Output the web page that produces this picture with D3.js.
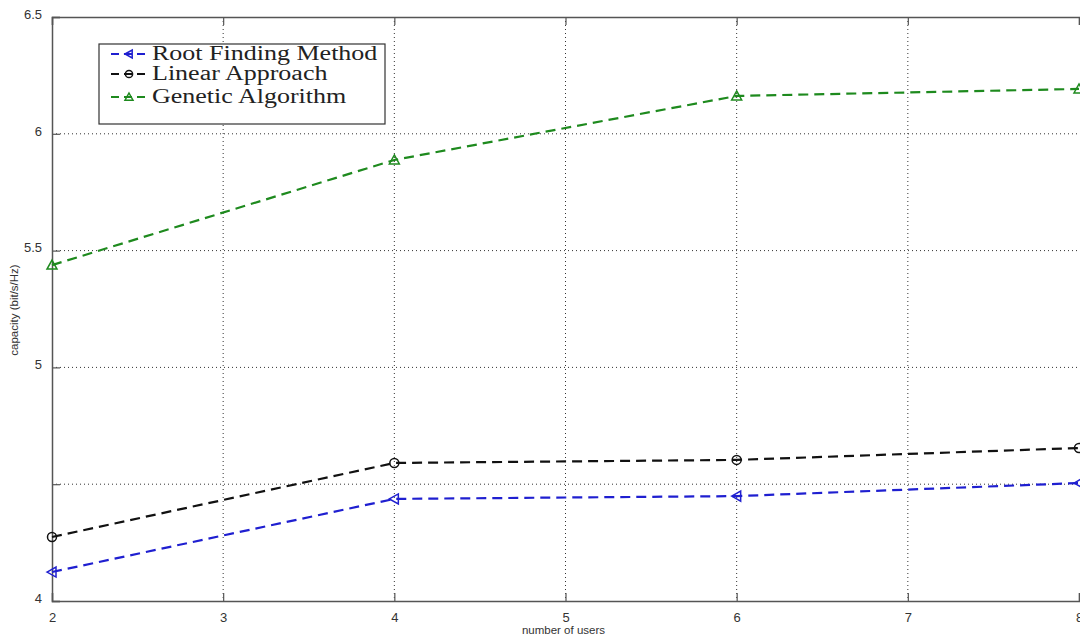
<!DOCTYPE html>
<html><head><meta charset="utf-8">
<script src="https://cdn.jsdelivr.net/npm/d3@7"></script>
<style>body{margin:0;background:#fff}svg{display:block}</style>
</head><body>
<svg id="c" width="1080" height="636"></svg>
<script>
const users = [2, 4, 6, 8];
const rootFinding = [4.124, 4.437, 4.449, 4.505];
const linearApproach = [4.274, 4.591, 4.604, 4.655];
const geneticAlgorithm = [5.438, 5.888, 6.162, 6.192];
const xTicks = [2, 3, 4, 5, 6, 7, 8];
const yTicks = [4, 4.5, 5, 5.5, 6, 6.5];
const yTickLabels = ["4", "", "5", "5.5", "6", "6.5"];
const seriesNames = ["Root Finding Method", "Linear Approach", "Genetic Algorithm"];

const svg = d3.select("#c");
const L = 52, R = 1079, T = 17, B = 601;
const x = d3.scaleLinear().domain([2, 8]).range([L, R]);
const y = d3.scaleLinear().domain([4, 6.5]).range([B, T]);

// grid
const g = svg.append("g");
g.selectAll(".vg").data(xTicks.slice(1, -1)).enter().append("line")
  .attr("x1", d => x(d)).attr("x2", d => x(d)).attr("y1", T).attr("y2", B)
  .attr("stroke", "#333").attr("stroke-width", 1).attr("stroke-dasharray", "1,3");
g.selectAll(".hg").data(yTicks.slice(1, -1)).enter().append("line")
  .attr("y1", d => y(d)).attr("y2", d => y(d)).attr("x1", L).attr("x2", R)
  .attr("stroke", "#333").attr("stroke-width", 1).attr("stroke-dasharray", "1,3");

// axes
const xAxis = d3.axisBottom(x).tickValues(xTicks).tickSize(-8).tickPadding(12).tickFormat(d3.format("d"));
const xa = svg.append("g").attr("transform", `translate(0,${B})`).call(xAxis);
const xTop = d3.axisTop(x).tickValues(xTicks).tickSize(-8).tickFormat("");
const xt = svg.append("g").attr("transform", `translate(0,${T})`).call(xTop);
const yAxis = d3.axisLeft(y).tickValues(yTicks).tickSize(-8).tickPadding(10).tickFormat((d, i) => yTickLabels[i]);
const ya = svg.append("g").attr("transform", `translate(${L},0)`).call(yAxis);
[xa, xt, ya].forEach(a => {
  a.select(".domain").attr("stroke", "#555").attr("stroke-width", 1.5);
  a.selectAll(".tick line").attr("stroke", "#555").attr("stroke-width", 1.2);
  a.selectAll("text").attr("fill", "#333").style("font-family", "Liberation Sans, Arial, sans-serif").style("font-size", "13px");
});
ya.selectAll("text").attr("dy", "0.1em");

// axis labels
svg.append("text").attr("x", (L + R) / 2 - 2).attr("y", 634).attr("text-anchor", "middle")
  .style("font-family", "Liberation Sans, Arial, sans-serif").style("font-size", "11.5px").attr("fill", "#333")
  .text("number of users");
svg.append("text").attr("transform", "translate(18,310) rotate(-90)").attr("text-anchor", "middle")
  .style("font-family", "Liberation Sans, Arial, sans-serif").style("font-size", "11.5px").attr("fill", "#333")
  .text("capacity (bit/s/Hz)");

const colors = ["#1f1fd0", "#111", "#1e8a1e"];
const data = [rootFinding, linearApproach, geneticAlgorithm];
const line = d3.line().x((d, i) => x(users[i])).y(d => y(d));

function marker(sel, k, cx, cy, s) {
  if (k === 0) {
    sel.append("path").attr("d", `M${cx - s},${cy} L${cx + s * 0.8},${cy - s} L${cx + s * 0.8},${cy + s} Z`)
      .attr("fill", "none").attr("stroke", colors[k]).attr("stroke-width", 1.5);
  } else if (k === 1) {
    sel.append("circle").attr("cx", cx).attr("cy", cy).attr("r", s * 0.9)
      .attr("fill", "none").attr("stroke", colors[k]).attr("stroke-width", 1.5);
  } else {
    sel.append("path").attr("d", `M${cx},${cy - s} L${cx + s},${cy + s * 0.8} L${cx - s},${cy + s * 0.8} Z`)
      .attr("fill", "none").attr("stroke", colors[k]).attr("stroke-width", 1.5);
  }
}

const plot = svg.append("g");
data.forEach((vals, k) => {
  plot.append("path").datum(vals).attr("d", line).attr("fill", "none")
    .attr("stroke", colors[k]).attr("stroke-width", 2.2).attr("stroke-dasharray", "10,6");
  vals.forEach((v, i) => marker(plot, k, x(users[i]), y(v), 5));
});

// legend
const lg = svg.append("g");
lg.append("rect").attr("x", 99).attr("y", 44).attr("width", 286).attr("height", 80)
  .attr("fill", "#fff").attr("stroke", "#333").attr("stroke-width", 1.2);
const rows = [54, 74, 97];
seriesNames.forEach((name, k) => {
  const yy = rows[k];
  lg.append("line").attr("x1", 111).attr("x2", 150).attr("y1", yy).attr("y2", yy)
    .attr("stroke", colors[k]).attr("stroke-width", 2).attr("stroke-dasharray", "8,5");
  marker(lg, k, 129, yy, 4);
  const t = lg.append("text").attr("x", 152).attr("y", yy + 6).text(name)
    .style("font-family", "Liberation Serif, Times New Roman, serif").style("font-size", "20px").attr("fill", "#222");
  const w = t.node().getComputedTextLength();
  t.attr("textLength", w * 1.3).attr("lengthAdjust", "spacingAndGlyphs");
});
</script>
</body></html>
